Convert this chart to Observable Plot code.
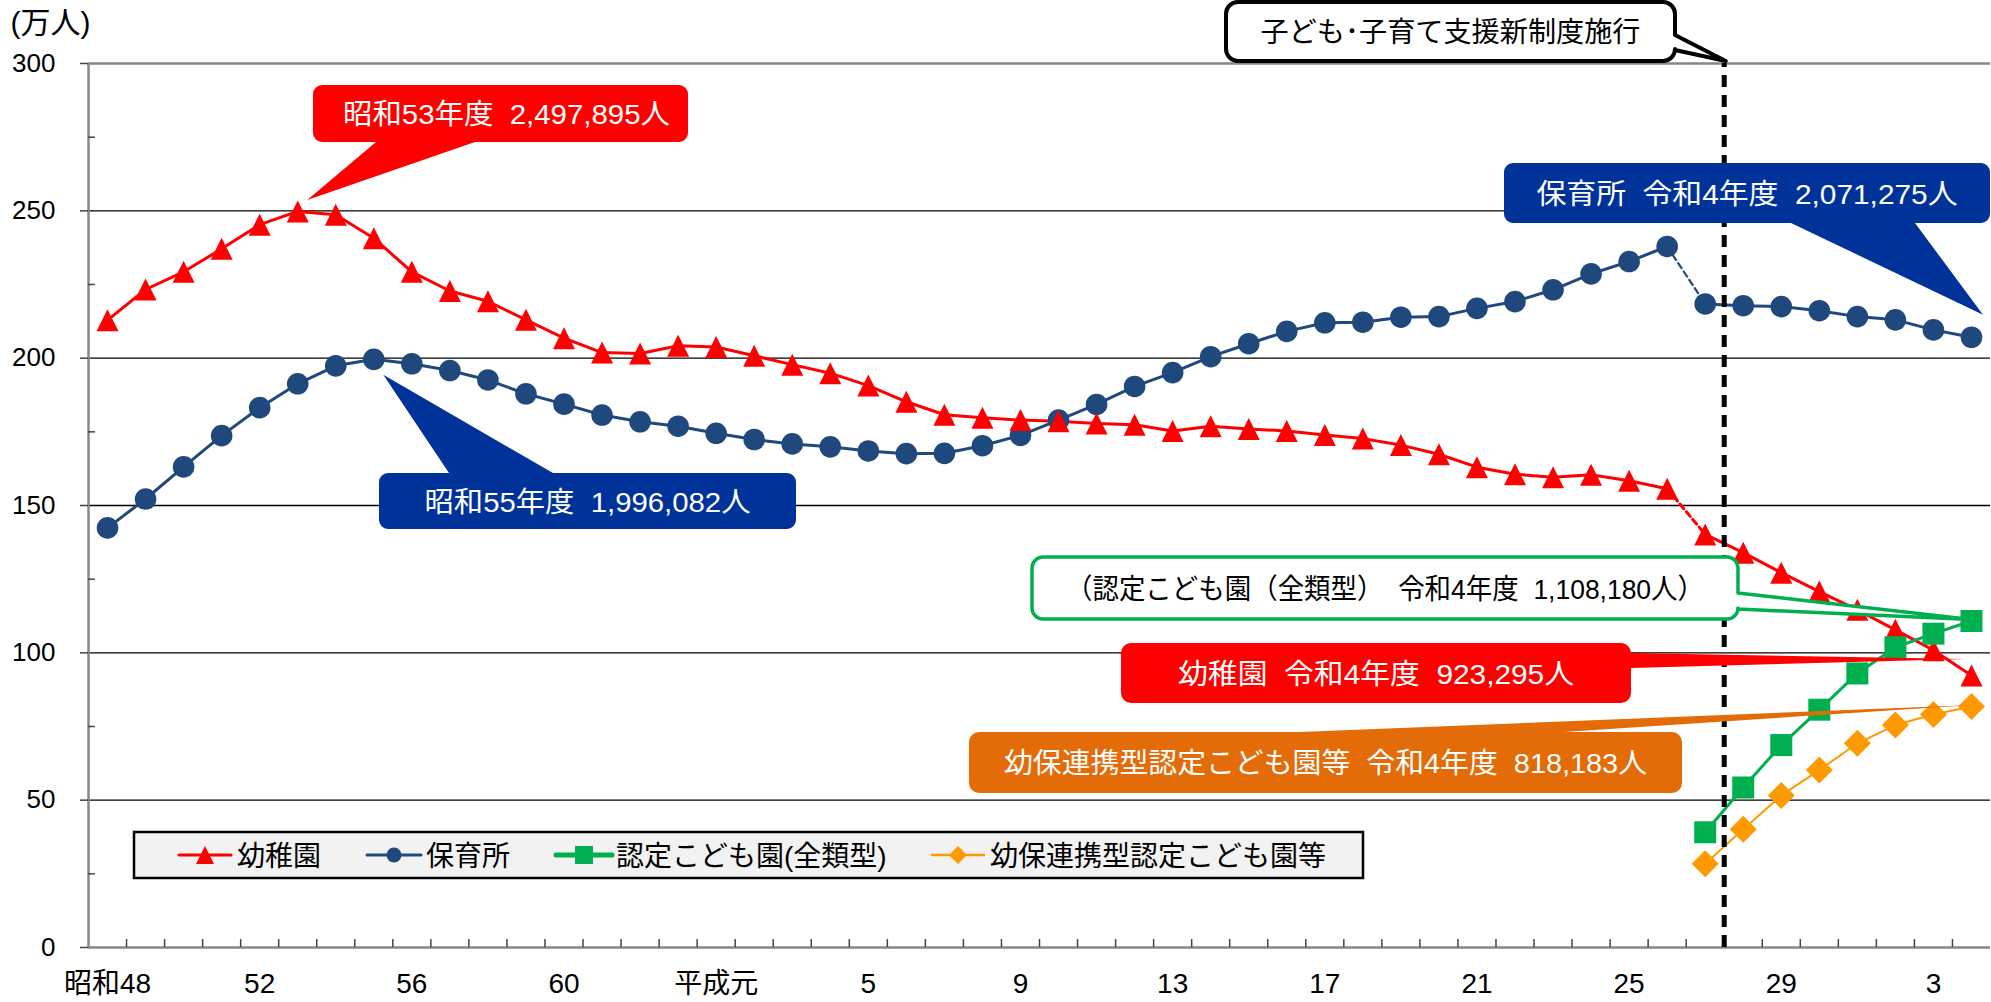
<!DOCTYPE html>
<html>
<head>
<meta charset="utf-8">
<script src="https://cdn.jsdelivr.net/npm/d3@7"></script>
<script src="https://cdn.jsdelivr.net/npm/@observablehq/plot@0.6"></script>
<style>
  html, body { margin: 0; padding: 0; background: #fff; overflow: hidden; }
  svg text { white-space: pre; }
</style>
</head>
<body>
<div id="chart"></div>
<script>
// ---------------- DATA (万人) ----------------
const years = d3.range(1973, 2023); // 昭和48年度 … 令和4年度
const kindergarten = [
  212.9, 223.3, 229.3, 237.1, 245.3, 249.8, 248.7, 240.7, 229.3, 222.8,
  219.3, 213.0, 206.8, 201.9, 201.6, 204.2, 203.8, 200.8, 197.8, 194.9,
  190.7, 185.2, 180.8, 179.8, 179.0, 178.6, 177.8, 177.4, 175.3, 176.9,
  176.0, 175.3, 173.9, 172.7, 170.5, 167.4, 163.0, 160.6, 159.6, 160.4,
  158.4, 155.7, 140.2, 134.0, 127.2, 120.8, 114.6, 107.8, 100.9, 92.3
];
const nursery = [
  142.4, 152.2, 163.1, 173.7, 183.2, 191.3, 197.4, 199.6, 198.1, 195.8,
  192.6, 187.9, 184.4, 180.7, 178.4, 176.9, 174.5, 172.4, 170.9, 169.9,
  168.5, 167.6, 167.7, 170.3, 173.8, 179.0, 184.3, 190.4, 195.1, 200.5,
  204.9, 209.1, 212.0, 212.2, 213.9, 214.1, 216.9, 219.2, 223.2, 228.6,
  232.8, 237.9, 218.4, 217.8, 217.5, 216.1, 214.1, 213.0, 209.6, 207.1
];
const ninteiYears = [2015, 2016, 2017, 2018, 2019, 2020, 2021, 2022];
const nintei = [39.1, 54.3, 68.7, 80.7, 93.0, 101.9, 106.5, 110.8];
const yohoYears = [2015, 2016, 2017, 2018, 2019, 2020, 2021, 2022];
const yoho = [28.4, 40.1, 51.6, 60.2, 69.3, 75.5, 79.1, 81.8];

const seriesNames = ["幼稚園", "保育所", "認定こども園(全類型)", "幼保連携型認定こども園等"];
const xTickYears = [1973, 1977, 1981, 1985, 1989, 1993, 1997, 2001, 2005, 2009, 2013, 2017, 2021];
const xTickLabels = ["昭和48", "52", "56", "60", "平成元", "5", "9", "13", "17", "21", "25", "29", "3"];
const yTicks = [0, 50, 100, 150, 200, 250, 300];
const yMinorTicks = [25, 75, 125, 175, 225, 275];
const definitionChangeYears = [2014, 2015]; // dashed link between these years
const newSystemBoundary = 2015.5;            // 子ども・子育て支援新制度施行 (between 平成27 and 平成28)
const unitLabel = "(万人)";
const newSystemLabel = "子ども･子育て支援新制度施行";
const calloutTexts = [
  "昭和53年度  2,497,895人",
  "昭和55年度  1,996,082人",
  "保育所  令和4年度  2,071,275人",
  "（認定こども園（全類型）  令和4年度  1,108,180人）",
  "幼稚園  令和4年度  923,295人",
  "幼保連携型認定こども園等  令和4年度  818,183人"
];

// ---------------- STYLE ----------------
const FONT = "'Liberation Sans', 'Noto Sans CJK JP', sans-serif";
const RED = "#FF0000", BLUE = "#1F497D", GREEN = "#00B050", ORANGE = "#FF9900";

const kgData = years.map((year, i) => ({year, value: kindergarten[i]}));
const nuData = years.map((year, i) => ({year, value: nursery[i]}));
const niData = ninteiYears.map((year, i) => ({year, value: nintei[i]}));
const yoData = yohoYears.map((year, i) => ({year, value: yoho[i]}));

const [chg0, chg1] = definitionChangeYears;
const before = d => d.filter(p => p.year <= chg0);
const change = d => d.filter(p => p.year >= chg0 && p.year <= chg1);
const after = d => d.filter(p => p.year >= chg1);

// custom symbols (bounding-box centred, like spreadsheet markers)
const triangleSym = {draw(ctx, size) { const r = Math.sqrt(size / Math.PI); ctx.moveTo(0, -r); ctx.lineTo(r, r); ctx.lineTo(-r, r); ctx.closePath(); }};
const squareSym = {draw(ctx, size) { const r = Math.sqrt(size / Math.PI); ctx.moveTo(-r, -r); ctx.lineTo(r, -r); ctx.lineTo(r, r); ctx.lineTo(-r, r); ctx.closePath(); }};
const diamondSym = {draw(ctx, size) { const r = Math.sqrt(size / Math.PI); ctx.moveTo(0, -r); ctx.lineTo(r, 0); ctx.lineTo(0, r); ctx.lineTo(-r, 0); ctx.closePath(); }};
const circleSym = {draw(ctx, size) { const r = Math.sqrt(size / Math.PI); ctx.moveTo(r, 0); ctx.arc(0, 0, r, 0, 2 * Math.PI); }};

const xMin = years[0] - 0.5, xMax = years[years.length - 1] + 0.5;
const boundaries = years.slice(1).map(y => y - 0.5);

const plot = Plot.plot({
  width: 1991, height: 1002,
  marginLeft: 88, marginRight: 1, marginTop: 63, marginBottom: 55,
  x: {domain: [xMin, xMax], axis: null},
  y: {domain: [0, 300], axis: null},
  style: {background: "white", fontFamily: FONT, overflow: "visible"},
  marks: [
    Plot.ruleY(yTicks.filter(v => v > 0 && v < 300), {stroke: "#000", strokeWidth: 1.3}),
    Plot.ruleY([300], {stroke: "#878787", strokeWidth: 2.5}),
    Plot.ruleY([0], {stroke: "#878787", strokeWidth: 2.5}),
    Plot.ruleX([xMin], {y1: 0, y2: 300, stroke: "#878787", strokeWidth: 2.5}),
    Plot.ruleY(yTicks, {x1: xMin, x2: xMin, insetLeft: -8, stroke: "#444", strokeWidth: 1.5}),
    Plot.ruleY(yMinorTicks, {x1: xMin, x2: xMin, insetRight: -7, stroke: "#444", strokeWidth: 1.5}),
    Plot.ruleX(boundaries, {y1: 0, y2: 0, insetTop: -8, stroke: "#444", strokeWidth: 1.5}),
    Plot.text(yTicks, {x: xMin, y: d => d, text: d => String(d), textAnchor: "end", dx: -33, fontSize: 26, fill: "#000"}),
    Plot.text(xTickYears, {x: d => d, y: 0, text: (d, i) => xTickLabels[i], dy: 37, fontSize: 28, fill: "#000"}),
    Plot.text([unitLabel], {frameAnchor: "top-left", text: d => d, dx: -78, dy: -40, textAnchor: "start", lineAnchor: "middle", fontSize: 30, fill: "#000"}),

    // 幼稚園
    Plot.line(before(kgData), {x: "year", y: "value", stroke: RED, strokeWidth: 3}),
    Plot.line(change(kgData), {x: "year", y: "value", stroke: RED, strokeWidth: 3, strokeDasharray: "6,4"}),
    Plot.line(after(kgData), {x: "year", y: "value", stroke: RED, strokeWidth: 3}),
    // 保育所
    Plot.line(before(nuData), {x: "year", y: "value", stroke: BLUE, strokeWidth: 3}),
    Plot.line(change(nuData), {x: "year", y: "value", stroke: BLUE, strokeWidth: 2.2, strokeDasharray: "6,4"}),
    Plot.line(after(nuData), {x: "year", y: "value", stroke: BLUE, strokeWidth: 3}),
    // 認定こども園 / 幼保連携型
    Plot.line(niData, {x: "year", y: "value", stroke: GREEN, strokeWidth: 3}),
    Plot.line(yoData, {x: "year", y: "value", stroke: ORANGE, strokeWidth: 2}),

    Plot.dot(nuData, {x: "year", y: "value", r: 10.8, fill: BLUE, symbol: "circle"}),
    Plot.dot(kgData, {x: "year", y: "value", r: 11, fill: RED, symbol: triangleSym}),
    Plot.dot(niData, {x: "year", y: "value", r: 11, fill: GREEN, symbol: squareSym}),
    Plot.dot(yoData, {x: "year", y: "value", r: 13.5, fill: ORANGE, symbol: diamondSym}),

    Plot.ruleX([newSystemBoundary], {y1: 0, y2: 300, stroke: "#000", strokeWidth: 5, strokeDasharray: "12,8"})
  ]
});

// ---------------- ANNOTATIONS ----------------
const sx = plot.scale("x"), sy = plot.scale("y");
const px = v => sx.apply(v), py = v => sy.apply(v);
const svg = d3.select(plot);

function calloutPath(x, y, w, h, r, wedge) {
  const p = d3.path();
  const W = wedge || {};
  const lo = Math.min(W.a, W.b), hi = Math.max(W.a, W.b);
  p.moveTo(x + r, y);
  if (W.side === "top") { p.lineTo(lo, y); p.lineTo(W.tip[0], W.tip[1]); p.lineTo(hi, y); }
  p.lineTo(x + w - r, y); p.arcTo(x + w, y, x + w, y + r, r);
  if (W.side === "right") { p.lineTo(x + w, lo); p.lineTo(W.tip[0], W.tip[1]); p.lineTo(x + w, hi); }
  p.lineTo(x + w, y + h - r); p.arcTo(x + w, y + h, x + w - r, y + h, r);
  if (W.side === "bottom") { p.lineTo(hi, y + h); p.lineTo(W.tip[0], W.tip[1]); p.lineTo(lo, y + h); }
  p.lineTo(x + r, y + h); p.arcTo(x, y + h, x, y + h - r, r);
  p.lineTo(x, y + r); p.arcTo(x, y, x + r, y, r);
  p.closePath();
  return p.toString();
}

const at = (data, year) => data.find(d => d.year === year);
const tipAt = (data, year, off) => { const d = at(data, year); return [px(d.year) + off[0], py(d.value) + off[1]]; };

const callouts = [
  {box: [313, 85, 375, 57], r: 9, fill: RED, stroke: "none", textFill: "#fff", text: calloutTexts[0], tw: 327, dx: 6,
   wedge: {side: "bottom", a: 376, b: 475, tip: tipAt(kgData, 1978, [10, -11])}},
  {box: [379, 473, 417, 56], r: 9, fill: "#003399", stroke: "none", textFill: "#fff", text: calloutTexts[1], tw: 326, dx: 0,
   wedge: {side: "top", a: 449, b: 553, tip: tipAt(nuData, 1980, [10, 16])}},
  {box: [1504, 163, 486, 60], r: 9, fill: "#003399", stroke: "none", textFill: "#fff", text: calloutTexts[2], tw: 421, dx: 0,
   wedge: {side: "bottom", a: 1791, b: 1915, tip: tipAt(nuData, 2022, [12, -22])}},
  {box: [1032, 557, 706, 62], r: 11, fill: "#fff", stroke: GREEN, sw: 3.5, textFill: "#000", text: calloutTexts[3], tw: 638, dx: 0,
   wedge: {side: "right", a: 593, b: 609, tip: tipAt(niData, 2022, [0, -1])}},
  {box: [1121, 643, 510, 60], r: 10, fill: RED, stroke: "none", textFill: "#fff", text: calloutTexts[4], tw: 396, dx: 0,
   wedge: {side: "right", a: 653, b: 668, tip: tipAt(kgData, 2022, [-5, -16])}},
  {box: [969, 732, 713, 61], r: 10, fill: "#E36C09", stroke: "none", textFill: "#fff", text: calloutTexts[5], tw: 643, dx: 0,
   wedge: {side: "top", a: 1300, b: 1564, tip: tipAt(yoData, 2022, [2, -1])}},
  {box: [1226, 2, 449, 59], r: 12, fill: "#fff", stroke: "#000", sw: 4, textFill: "#000", text: newSystemLabel, tw: 380, dx: 0,
   wedge: {side: "right", a: 35, b: 50, tip: [px(newSystemBoundary) + 2, py(300) - 2]}}
];

const g = svg.append("g");
for (const c of callouts) {
  const [x, y, w, h] = c.box;
  g.append("path")
    .attr("d", calloutPath(x, y, w, h, c.r, c.wedge))
    .attr("fill", c.fill)
    .attr("stroke", c.stroke)
    .attr("stroke-width", c.sw || 0)
    .attr("stroke-linejoin", "round");
  g.append("text")
    .attr("x", x + w / 2 + c.dx).attr("y", y + h / 2 + 1)
    .attr("text-anchor", "middle").attr("dominant-baseline", "central")
    .attr("font-family", FONT).attr("font-size", 28)
    .attr("fill", c.textFill)
    .attr("textLength", c.tw).attr("lengthAdjust", "spacingAndGlyphs")
    .text(c.text);
}

// ---------------- LEGEND ----------------
const lg = svg.append("g");
lg.append("rect").attr("x", 134).attr("y", 832).attr("width", 1229).attr("height", 46)
  .attr("fill", "#F2F2F2").attr("stroke", "#000").attr("stroke-width", 2.5);
const legendItems = [
  {name: seriesNames[0], color: RED, sym: triangleSym, r: 9, lw: 3, x1: 179, x2: 231, tx: 237},
  {name: seriesNames[1], color: BLUE, sym: circleSym, r: 7.5, lw: 3, x1: 367, x2: 421, tx: 426},
  {name: seriesNames[2], color: GREEN, sym: squareSym, r: 9, lw: 5, x1: 556, x2: 612, tx: 616},
  {name: seriesNames[3], color: ORANGE, sym: diamondSym, r: 9, lw: 2.5, x1: 932, x2: 984, tx: 990}
];
const ly = 855;
for (const it of legendItems) {
  lg.append("line").attr("x1", it.x1).attr("x2", it.x2).attr("y1", ly).attr("y2", ly)
    .attr("stroke", it.color).attr("stroke-width", it.lw).attr("stroke-linecap", "round");
  lg.append("path").attr("transform", `translate(${(it.x1 + it.x2) / 2},${ly})`)
    .attr("d", d3.symbol(it.sym, it.r * it.r * Math.PI)()).attr("fill", it.color);
  lg.append("text").attr("x", it.tx).attr("y", ly + 1).attr("dominant-baseline", "central")
    .attr("text-anchor", "start")
    .attr("font-family", FONT).attr("font-size", 28).attr("fill", "#000").text(it.name);
}

document.getElementById("chart").append(plot);
</script>
</body>
</html>
